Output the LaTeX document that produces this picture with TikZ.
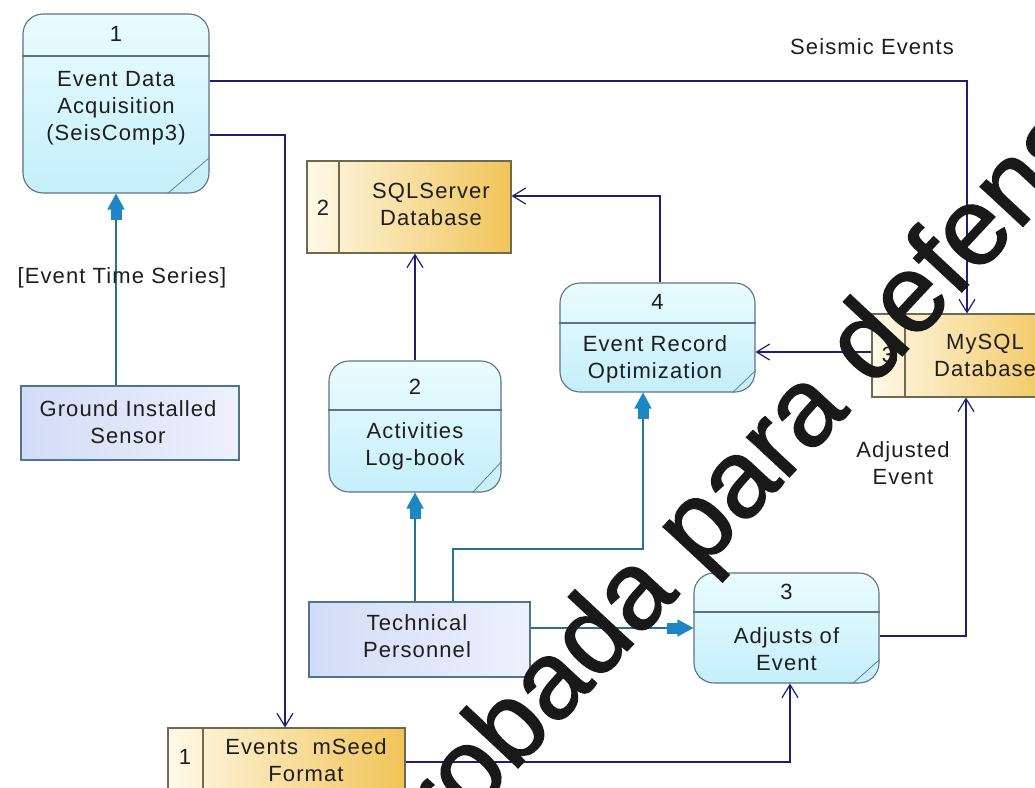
\documentclass[tikz,border=0pt]{standalone}
\usepackage{fontspec}
\setmainfont{Liberation Sans}[LetterSpace=5]
\newfontfamily\wmfont{Liberation Sans}[FakeBold=1.4]
\usetikzlibrary{arrows.meta}

\definecolor{procline}{HTML}{5F7282}
\definecolor{proctop}{HTML}{EAFCFF}
\definecolor{procbot}{HTML}{C4EFFB}
\definecolor{storeline}{HTML}{6E6A50}
\definecolor{storeleft}{HTML}{FFF9E8}
\definecolor{storeright}{HTML}{F1C458}
\definecolor{entline}{HTML}{4E7590}
\definecolor{entleft}{HTML}{D3DCF7}
\definecolor{entright}{HTML}{EDF1FC}
\definecolor{flowcol}{HTML}{1E1E78}
\definecolor{ctrlcol}{HTML}{2A7090}
\definecolor{ctrltip}{HTML}{1D86C4}
\definecolor{txtcol}{HTML}{1E1E1E}

\begin{document}
\begin{tikzpicture}[x=1pt,y=-1pt,
  txt/.style={font=\fontsize{22}{27}\selectfont, text=txtcol, align=center, inner sep=0pt},
  proc/.style={draw=procline, line width=1.1pt, rounded corners=20pt,
    top color=proctop, bottom color=procbot, inner sep=0pt},
  procln/.style={draw=procline, line width=1.1pt},
  cornerln/.style={draw=procline, line width=0.7pt},
  store/.style={draw=storeline, line width=1.1pt, left color=storeleft,
    right color=storeright, inner sep=0pt},
  storeln/.style={draw=storeline, line width=1.1pt},
  entity/.style={draw=entline, line width=1.5pt, left color=entleft,
    right color=entright, inner sep=0pt},
  flow/.style={draw=flowcol, line width=1.3pt,
    -{Straight Barb[length=13pt,width=16pt,line width=1.2pt]}},
  ctrl/.style={draw=ctrlcol, line width=1.6pt,
    -{Rectangle[length=11pt,width=11pt,sep=-1pt,fill=ctrltip,color=ctrltip]
      Triangle[length=16pt,width=17pt,fill=ctrltip,color=ctrltip]}},
  wm/.style={font=\wmfont\fontsize{110}{110}\selectfont, text=black!90, inner sep=0pt}
]
\useasboundingbox (0,0) rectangle (1035,787);
\fill[white] (0,0) rectangle (1035,787);
\clip (0,0) rectangle (1035,787);

% ---------- processes ----------
\node[proc, minimum width=186pt, minimum height=179pt] (p1) at (116,103.5) {};
\draw[procln] (p1.west |- 0,56) -- (p1.east |- 0,56);
\draw[cornerln] ([yshift=36pt]p1.south east) -- ([xshift=-42pt]p1.south east);
\node[txt] (p1num) at (116,34) {1};
\node[txt] (p1txt) at (116,108) {Event Data\\Acquisition\\(SeisComp3)};

\node[proc, minimum width=172pt, minimum height=131pt] (p2) at (415,426.5) {};
\draw[procln] (p2.west |- 0,410) -- (p2.east |- 0,410);
\draw[cornerln] ([yshift=31pt]p2.south east) -- ([xshift=-29pt]p2.south east);
\node[txt] (p2num) at (415,387) {2};
\node[txt] (p2txt) at (415,446) {Activities\\Log-book};

\node[proc, minimum width=195pt, minimum height=109pt] (p4) at (657.5,337.5) {};
\draw[procln] (p4.west |- 0,323) -- (p4.east |- 0,323);
\draw[cornerln] ([yshift=22pt]p4.south east) -- ([xshift=-23pt]p4.south east);
\node[txt] (p4num) at (657.5,302) {4};
\node[txt] (p4txt) at (655,359) {Event Record\\Optimization};

\node[proc, minimum width=185pt, minimum height=110pt] (p3) at (786.5,628) {};
\draw[procln] (p3.west |- 0,612) -- (p3.east |- 0,612);
\draw[cornerln] ([yshift=24pt]p3.south east) -- ([xshift=-27pt]p3.south east);
\node[txt] (p3num) at (786.5,592) {3};
\node[txt] (p3txt) at (786.5,649) {Adjusts of\\Event};

% ---------- data stores ----------
\node[store, minimum width=204pt, minimum height=92pt] (sql) at (409,207) {};
\draw[storeln] (sql.north -| 339,0) -- (sql.south -| 339,0);
\node[txt] (sqlnum) at (323,208) {2};
\node[txt] (sqltxt) at (431,204) {SQLServer\\Database};

\node[store, minimum width=190pt, minimum height=83pt] (mysql) at (967,355.5) {};
\draw[storeln] (mysql.north -| 905,0) -- (mysql.south -| 905,0);
\node[txt] (mysqlnum) at (888,355) {3};
\node[txt] (mysqltxt) at (985,355) {MySQL\\Database};

\node[store, minimum width=237pt, minimum height=62pt] (mseed) at (286.5,759) {};
\draw[storeln] (mseed.north -| 203,0) -- (mseed.south -| 203,0);
\node[txt] (mseednum) at (185,757) {1};
\node[txt] (mseedtxt) at (306,760) {Events~~mSeed\\Format};

% ---------- external entities ----------
\node[entity, minimum width=218pt, minimum height=74pt] (sensor) at (130,423) {};
\node[txt] (sensortxt) at (128,422) {Ground Installed\\Sensor};

\node[entity, minimum width=221pt, minimum height=75pt] (tech) at (419.5,639.5) {};
\node[txt] (techtxt) at (417,636) {Technical\\Personnel};

% ---------- data flows ----------
\draw[flow] (p1.east |- 0,81) -| (mysql.north);
\draw[flow] (p1.east |- 0,135) -| ([xshift=-1.5pt]mseed.north);
\draw[flow] (p2.north) -- (p2.north |- sql.south);
\draw[flow] ([xshift=2.5pt]p4.north) |- (sql.east |- 0,196);
\draw[flow] (mysql.west |- 0,352) -- (p4.east |- 0,352);
\draw[flow] (p3.east |- 0,636) -| ([xshift=-1pt]mysql.south);
\draw[flow] (mseed.east |- 0,762) -| ([xshift=3.5pt]p3.south);

% ---------- control flows ----------
\draw[ctrl] (p1.south |- sensor.north) -- (p1.south);
\draw[ctrl] (tech.north -| p2.south) -- (p2.south);
\draw[ctrl] (tech.north -| 453,0) -- ++(0,-52) -| ([xshift=-14.5pt]p4.south);
\draw[ctrl] (tech.east |- 0,628) -- (p3.west |- 0,628);

% ---------- flow labels ----------
\node[txt] (lblseis) at (872,47) {Seismic Events};
\node[txt] (lblets) at (122,278) {[Event Time Series]};
\node[txt] (lbladj) at (903,463) {Adjusted\\Event};

% ---------- stamp ----------
\node[wm, rotate=47] (stamp) at (726,503) {Aprobada para defensa};
\end{tikzpicture}
\end{document}
